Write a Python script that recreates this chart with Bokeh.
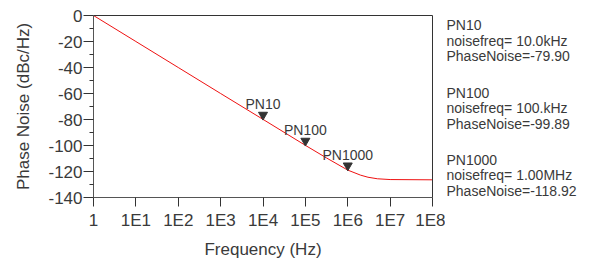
from bokeh.plotting import figure
from bokeh.layouts import row
from bokeh.models import Range1d, FixedTicker, LinearAxis, ColumnDataSource
from bokeh.core.properties import value
from bokeh.embed import file_html
from bokeh.resources import INLINE

# ---- data ----
freq = [1, 10, 100, 1e3, 1e4, 1e5, 3.16e5, 1e6, 2e6, 3e6, 5e6, 1e7, 1e8]
phase_noise = [0, -20, -40, -60, -79.90, -99.89, -109.6, -118.92, -122.8, -124.4, -125.6, -126.2, -126.4]

marker_names = ["PN10", "PN100", "PN1000"]
marker_freq = [1e4, 1e5, 1e6]
marker_freq_text = ["10.0kHz", "100.kHz", "1.00MHz"]
marker_pn = [-79.90, -99.89, -118.92]

x_ticks = [1, 10, 100, 1e3, 1e4, 1e5, 1e6, 1e7, 1e8]
x_tick_labels = ["1", "1E1", "1E2", "1E3", "1E4", "1E5", "1E6", "1E7", "1E8"]
y_ticks = [-140, -120, -100, -80, -60, -40, -20, 0]
y_minor = [-130, -110, -90, -70, -50, -30, -10]

FONT = "Liberation Sans"
TXT = "#3a3a3a"

FL, FT, FW, FH, FR = 93, 15, 339, 182, 13
px_per_unit = FH / 140.0

p = figure(frame_width=FW, frame_height=FH, x_axis_type="log", output_backend="svg",
           toolbar_location=None, x_range=Range1d(1, 1e8), y_range=Range1d(-140, 0),
           min_border_left=FL, min_border_right=FR, min_border_top=FT, min_border_bottom=56)
p.xgrid.visible = False
p.ygrid.visible = False
p.outline_line_color = None
p.background_fill_color = "white"
p.border_fill_color = "white"

xa = p.xaxis[0]
xa.ticker = FixedTicker(ticks=x_ticks, minor_ticks=[])
xa.major_label_overrides = {t: l for t, l in zip(x_ticks, x_tick_labels)}
xa.major_tick_out = 9
xa.major_tick_in = 0
xa.minor_tick_out = 0
xa.major_label_standoff = 4
xa.axis_label = "Frequency (Hz)"
xa.axis_label_standoff = 7

ya = p.yaxis[0]
ya.ticker = FixedTicker(ticks=y_ticks, minor_ticks=y_minor)
ya.major_label_overrides = {t: str(t) for t in y_ticks}
ya.major_tick_out = 10
ya.major_tick_in = 0
ya.minor_tick_out = 4
ya.minor_tick_in = 0
ya.major_label_standoff = 1
ya.axis_label = "Phase Noise (dBc/Hz)"
ya.axis_label_standoff = 12

for ax in (xa, ya):
    ax.axis_line_color = "#555555"
    ax.major_tick_line_color = "#333333"
    ax.minor_tick_line_color = "#333333"
    ax.major_label_text_font = FONT
    ax.major_label_text_font_size = "17px"
    ax.major_label_text_color = TXT
    ax.axis_label_text_font = FONT
    ax.axis_label_text_font_size = "17px"
    ax.axis_label_text_font_style = "normal"
    ax.axis_label_text_color = TXT

# top and right frame borders as bare axes
for side in ("above", "right"):
    ax = LinearAxis(ticker=FixedTicker(ticks=[]), major_tick_out=0, major_tick_in=0,
                    minor_tick_out=0, minor_tick_in=0, major_label_standoff=0,
                    major_label_text_font_size="0px", axis_line_color="#333333")
    p.add_layout(ax, side)

p.line(freq, phase_noise, line_color="#ee1111", line_width=1)

tri_off = 4.5 / px_per_unit
src = ColumnDataSource(dict(x=marker_freq, y=marker_pn,
                            ym=[v + tri_off for v in marker_pn], name=marker_names))
p.scatter("x", "ym", source=src, marker="inverted_triangle", size=9,
          fill_color="#333333", line_color="#333333")
p.text("x", "y", text="name", source=src, text_align="center", text_baseline="alphabetic",
       y_offset=-15, text_font=value(FONT), text_font_size="14px", text_color=TXT)

# right-hand marker readouts in a side panel sharing the main plot's y scale
P2W = 600 - (FL + FW + FR)
p2 = figure(frame_width=P2W, frame_height=FH, output_backend="svg", toolbar_location=None,
            x_range=Range1d(0, P2W), y_range=Range1d(-140, 0),
            min_border_left=0, min_border_right=0,
            min_border_top=FT, min_border_bottom=56)
p2.axis.visible = False
p2.grid.visible = False
p2.outline_line_color = None
p2.border_fill_color = "white"
p2.background_fill_color = "white"

block_base_px = [9.5, 77, 144]   # text anchor below the frame top, px
line_gap = 15.5
tx, ty, tt = [], [], []
for i, name in enumerate(marker_names):
    lines = [name, "noisefreq= " + marker_freq_text[i], "PhaseNoise=%.2f" % marker_pn[i]]
    for j, txt in enumerate(lines):
        tx.append(1)
        ty.append(-(block_base_px[i] + j * line_gap) / px_per_unit)
        tt.append(txt)
p2.text(tx, ty, text=tt, text_align="left", text_baseline="alphabetic",
        text_font=value(FONT), text_font_size="14px", text_color=TXT)

layout = row(p, p2, spacing=0)
open("out.html", "w").write(file_html(layout, INLINE))
